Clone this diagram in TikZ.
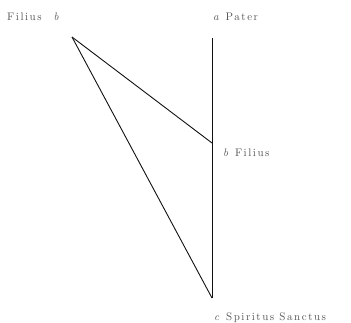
\documentclass[tikz,border=0pt]{standalone}
\usepackage{fontspec}
\setmainfont{Latin Modern Roman}
\newfontfamily\spacedfont[LetterSpace=14]{Latin Modern Roman}
\usetikzlibrary{positioning}
\definecolor{ink}    {HTML}{111111}
\definecolor{softink}{HTML}{555555}
\tikzset{
  % --- nodes
  lbl/.style  = {font=\spacedfont\fontsize{11}{13}\selectfont, text=softink, inner sep=1pt},
  % --- edges
  e/.style    = {draw=ink, line width=0.9pt},
}
\begin{document}
\begin{tikzpicture}[x=1pt,y=-1pt]
  \useasboundingbox (0,0) rectangle (351,323);
  \coordinate (pa) at (212,38);
  \coordinate (pb) at (212,143);
  \coordinate (pc) at (212,298);
  \coordinate (fb) at (72,37);

  \node[lbl, anchor=west] (la) at (212,17) {\textit{a} Pater};
  \node[lbl, anchor=west] (lb) at (222,153) {\textit{b} Filius};
  \node[lbl, anchor=west] (lc) at (213,318) {\textit{c} Spiritus Sanctus};
  \node[lbl, anchor=west] (lf) at (6,17) {Filius\hspace{12pt}\textit{b}};

  \draw[e] (pa) -- (pc);
  \foreach \a in {pb,pc} \draw[e] (fb) -- (\a);
\end{tikzpicture}
\end{document}
